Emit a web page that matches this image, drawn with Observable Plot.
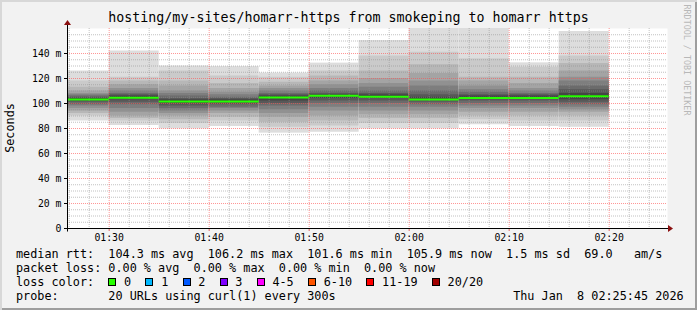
<!DOCTYPE html>
<html><head><meta charset="utf-8">
<script src="https://cdn.jsdelivr.net/npm/d3@7"></script>
<script src="https://cdn.jsdelivr.net/npm/@observablehq/plot@0.6"></script>
<style>
html,body{margin:0;padding:0;background:#f2f2f2;}
#wrap{position:relative;width:697px;height:310px;background:#f2f2f2;overflow:hidden;
  font-family:"DejaVu Sans Mono",monospace;color:#000;
  box-shadow: inset 2px 2px 0 #d8d8d8, inset -2px -2px 0 #9e9e9e;}
#wrap svg{position:absolute;left:0;top:0;}
.abs{position:absolute;white-space:pre;}
#title{left:0;width:697px;top:10px;text-align:center;font-size:13.3px;line-height:16px;}
#ylabel{left:-40px;top:121px;width:100px;text-align:center;font-size:11.8px;line-height:14px;transform:rotate(-90deg);}
#credit{left:627px;top:54px;width:120px;text-align:center;font-size:8.4px;line-height:12px;color:#b8b8b8;transform:rotate(90deg);}
#legend{left:16px;top:247px;font-size:11.8px;line-height:14px;}
.row{height:14px;white-space:pre;display:flex;align-items:center;}
.box{display:inline-block;width:6px;height:6px;border:1px solid #000;margin-right:7.7px;}
.lab{margin-right:14.3px;}
</style></head><body><div id="wrap"></div>
<script>
const title = "hosting/my-sites/homarr-https from smokeping to homarr https";
const yLabel = "Seconds";
const credit = "RRDTOOL / TOBI OETIKER";
// 5-minute step start times (UTC, 2026-01-08)
const segmentStart = ["01:25","01:30","01:35","01:40","01:45","01:50","01:55","02:00","02:05","02:10","02:15"];
// median rtt per step, ms
const medianMs = [103.2, 104.6, 101.6, 101.6, 104.8, 106.2, 105.5, 103.3, 104.5, 104.5, 105.9];
// 20 sorted ping rtts per step, ms (smoke)
const pingsMs = [
  [86, 90, 92, 94, 96, 98, 99, 101, 102, 103, 103.5, 104, 105, 106, 107, 108, 110, 113, 118, 126],
  [82.4, 86, 88, 90, 93, 96, 99, 101, 103, 104.2, 105, 106, 107, 108, 110, 112, 115, 118, 121, 142],
  [79.7, 84, 87, 90, 92, 94, 96, 98, 100, 101.4, 101.8, 103, 104, 106, 108, 110, 114, 118, 126, 130],
  [81.6, 86, 89, 92, 94, 96, 97, 99, 100.5, 101.4, 101.8, 103, 104, 105, 107, 109, 112, 116, 122, 129.5],
  [76.3, 81, 85, 89, 92, 95, 98, 100, 102, 104.4, 105, 106, 107, 108, 110, 112, 114, 117, 121, 124.3],
  [77, 82, 86, 90, 94, 97, 100, 102, 104, 106, 106.4, 107, 108, 110, 112, 115, 118, 122, 126, 132.3],
  [79.7, 84, 88, 91, 94, 97, 100, 102, 104, 105.3, 105.7, 107, 108, 110, 113, 116, 120, 126, 138, 150.4],
  [79.7, 84, 88, 91, 94, 97, 99, 101, 102.5, 103.1, 103.5, 105, 107, 110, 114, 118, 124, 131, 141, 165],
  [83, 87, 90, 93, 96, 98, 100, 102, 103.5, 104.3, 104.7, 106, 107, 109, 111, 114, 118, 121, 135.7, 162],
  [81.6, 86, 90, 93, 96, 98, 100, 102, 103.5, 104.3, 104.7, 106, 107, 108, 110, 112, 116, 121, 129, 132.5],
  [81, 86, 90, 93, 95, 97, 99, 101, 103, 105.5, 106.3, 108, 111, 114, 118, 121, 126, 132, 138, 157.6]
];
const windowStart = "01:25:50", windowEnd = "02:25:50";
const legendLine1 = "median rtt:  104.3 ms avg  106.2 ms max  101.6 ms min  105.9 ms now  1.5 ms sd  69.0   am/s";
const legendLine2 = "packet loss: 0.00 % avg  0.00 % max  0.00 % min  0.00 % now";
const lossTitle = "loss color:  ";
const lossLabels = ["0","1","2","3","4-5","6-10","11-19","20/20"];
const lossColors = ["#26ff00","#00b8ff","#0059ff","#7e00ff","#ff00ff","#ff5500","#ff0000","#a10000"];
const probeLine = "probe:       20 URLs using curl(1) every 300s";
const stampText = "Thu Jan  8 02:25:45 2026";

const toDate = (hms) => { const [h,m,s=0] = hms.split(":").map(Number); return new Date(Date.UTC(2026,0,8,h,m,s)); };
const STEP = 5*60*1000;
const xDomain = [toDate(windowStart), toDate(windowEnd)];

const bands = [];
segmentStart.forEach((s, si) => {
  const p = pingsMs[si].slice().sort((a,b)=>a-b);
  const half = p.length/2;
  const t1 = toDate(s), t2 = new Date(+t1 + STEP);
  for (let i = 1; i <= half; i++) {
    const g = Math.floor(190/half*(half-i)) + 50;
    bands.push({x1:t1, x2:t2, y1:p[i-1]/1000, y2:p[p.length-i]/1000, fill:`rgb(${g},${g},${g})`});
  }
});
const medians = segmentStart.map((s,i) => ({x1:toDate(s), x2:new Date(+toDate(s)+STEP), y:medianMs[i]/1000}));

const majorX = d3.utcMinute.every(10).range(xDomain[0], xDomain[1]);
const minorX = d3.utcMinute.every(2).range(xDomain[0], xDomain[1]).filter(d => d.getUTCMinutes()%10 !== 0);
const majorY = d3.ticks(0, 0.16, 8).filter(v => v < 0.16);
const minorY = d3.ticks(0, 0.16, 32).filter(v => Math.round(v*1000)%20 !== 0);
const yFmt = v => v === 0 ? "0" : `${Math.round(v*1000)} m`;

const dotted = {strokeDasharray:"1,1"};
const plot = Plot.plot({
  width:697, height:310, marginLeft:67, marginRight:30, marginTop:28, marginBottom:82,
  style:{background:"transparent", fontFamily:"DejaVu Sans Mono", fontSize:"9.8px", color:"#000", overflow:"visible"},
  x:{type:"utc", domain:xDomain},
  y:{domain:[0,0.16]},
  color:{type:"identity"},
  marks:[
    Plot.frame({fill:"white", stroke:null}),
    Plot.rect(bands, {x1:"x1", x2:"x2", y1:"y1", y2:"y2", fill:"fill", clip:true}),
    Plot.ruleX(minorX, {stroke:"#8f8f8f", strokeOpacity:0.55, ...dotted}),
    Plot.ruleY(minorY, {stroke:"#8f8f8f", strokeOpacity:0.55, ...dotted}),
    Plot.ruleX(majorX, {stroke:"#ff5050", strokeOpacity:0.6, ...dotted}),
    Plot.ruleY(majorY.filter(v => v > 0), {stroke:"#ff5050", strokeOpacity:0.6, ...dotted}),
    Plot.ruleY(medians, {x1:"x1", x2:"x2", y:"y", stroke:"#26ff00", strokeWidth:2, clip:true}),
    Plot.axisX({ticks:majorX, tickFormat:d3.utcFormat("%H:%M"), tickSize:3, tickPadding:3, label:null, stroke:"#e06060"}),
    Plot.axisY({ticks:majorY, tickFormat:yFmt, tickSize:3, tickPadding:3, label:null})
  ]
});

// axis lines with arrows
const sx = plot.scale("x"), sy = plot.scale("y");
const xL = Math.round(sx.apply(xDomain[0])) + 0.5, xR = Math.round(sx.apply(xDomain[1]));
const yB = Math.round(sy.apply(0)) + 0.5, yT = Math.round(sy.apply(0.16));
const svg = d3.select(plot);
svg.append("path").attr("d", `M${xL-3},${yB}H${xR+1}M${xL},${yB+3}V${yT-5}`).attr("stroke","#000").attr("fill","none");
svg.append("path").attr("d", `M${xR+1},${yB-3.5}L${xR+6},${yB}L${xR+1},${yB+3.5}Z`).attr("fill","#8b1010");
svg.append("path").attr("d", `M${xL-3.5},${yT-3}L${xL},${yT-8}L${xL+3.5},${yT-3}Z`).attr("fill","#8b1010");

const wrap = document.getElementById("wrap");
wrap.appendChild(plot);
const add = (id, text) => { const d = document.createElement("div"); d.id = id; d.className = "abs"; d.textContent = text; wrap.appendChild(d); return d; };
add("title", title);
add("ylabel", yLabel);
add("credit", credit);
const leg = document.createElement("div"); leg.id = "legend"; leg.className = "abs"; wrap.appendChild(leg);
const row = (t) => { const r = document.createElement("div"); r.className = "row"; if (t != null) r.textContent = t; leg.appendChild(r); return r; };
row(legendLine1);
row(legendLine2);
const r3 = row(null);
const lt = document.createElement("span"); lt.textContent = lossTitle; r3.appendChild(lt);
lossLabels.forEach((l,i) => {
  const b = document.createElement("span"); b.className = "box"; b.style.background = lossColors[i]; r3.appendChild(b);
  const s = document.createElement("span"); s.className = "lab"; s.textContent = l; r3.appendChild(s);
});
row(probeLine.padEnd(70, " ") + stampText);
</script></body></html>
